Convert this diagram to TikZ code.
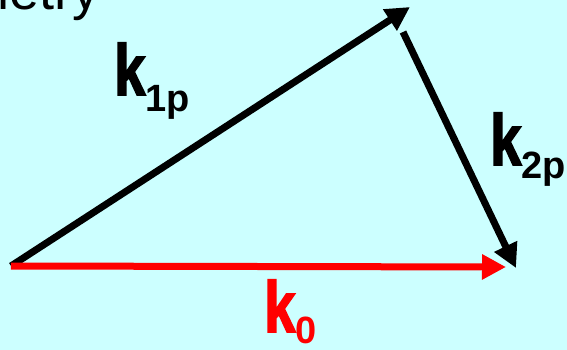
\documentclass[tikz,border=0pt]{standalone}
\usepackage{fontspec}
\setmainfont{Liberation Sans}
\newfontfamily\kfont[FakeBold=2.5]{Liberation Sans Bold}
\usetikzlibrary{arrows.meta,positioning}

\definecolor{skycyan}{HTML}{CCFFFF}
\newcommand{\wavevec}[2][16pt]{\scalebox{0.78}[1]{\fontsize{72}{72}\kfont k}\raisebox{-#1}{\fontsize{38}{38}\selectfont\bfseries #2}}

\begin{document}
\begin{tikzpicture}[
        x=1pt, y=-1pt,
        vec/.style={line width=7pt, -{Triangle[length=24pt,width=24pt]}},
        lbl/.style={anchor=base west, inner sep=0pt}
    ]
        \useasboundingbox (0,0) rectangle (567,350);
        \fill[skycyan] (0,0) rectangle (567,350);

        \node[anchor=base east, inner sep=0pt, font=\fontsize{54}{54}\selectfont] (title) at (100,10) {metry};

        \coordinate (origin) at (11,266);
        \coordinate (tip1) at (410,7);
        \coordinate (tail2) at (403,32);
        \coordinate (tip2) at (516,268);
        \coordinate (tip0) at (506,267);

        \draw[vec] (origin) -- (tip1);
        \draw[vec] (tail2) -- (tip2);
        \draw[vec, red] (origin) -- (tip0);

        \node[lbl] (k1p) at (114,95) {\wavevec[17pt]{1p}};
        \node[lbl] (k2p) at (490,165) {\wavevec[13pt]{2p}};
        \node[lbl, red] (k0) at (264,332) {\wavevec[11pt]{0}};
\end{tikzpicture}
\end{document}
